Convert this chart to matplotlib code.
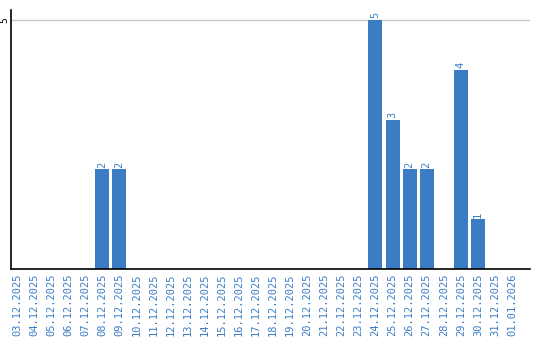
import matplotlib.pyplot as plt
import numpy as np
import pandas as pd

dates = pd.date_range('2025-12-03', '2026-01-01').strftime('%d.%m.%Y').tolist()
counts = [0, 0, 0, 0, 0, 2, 2, 0, 0, 0, 0, 0, 0, 0, 0, 0, 0, 0, 0, 0, 0,
          5, 3, 2, 2, 0, 4, 1, 0, 0]

blue = '#3b7dc4'
font = 'DejaVu Sans Mono'

fig = plt.figure(figsize=(5.4, 3.4), dpi=100)
ax = fig.add_axes([11 / 540, 71 / 340, 519 / 540, 259 / 340])

x = np.arange(len(dates))
ax.bar(x, counts, width=0.82, color=blue, zorder=2)
for xi, c in zip(x, counts):
    if c > 0:
        ax.text(xi, c + 0.03, str(c), rotation=90, ha='center', va='bottom',
                color=blue, fontsize=7.5, family=font)

ax.set_xlim(-0.35, len(dates) - 1 + 1.05)
ax.set_ylim(0, 5.2)
ax.set_yticks([5])
ax.set_yticklabels(['5'], rotation=90, va='center', family=font, fontsize=7)
ax.yaxis.grid(True, color='#c8c8c8', linewidth=1, zorder=0)
ax.set_xticks(x)
ax.set_xticklabels(dates, rotation=90, color=blue, family=font, fontsize=7.5)
ax.tick_params(axis='x', length=0, pad=3)
ax.tick_params(axis='y', length=0, pad=1)
ax.spines['top'].set_visible(False)
ax.spines['right'].set_visible(False)
ax.spines['left'].set_linewidth(1.2)
ax.spines['bottom'].set_linewidth(1.2)

fig.savefig('out.png', dpi=100)
